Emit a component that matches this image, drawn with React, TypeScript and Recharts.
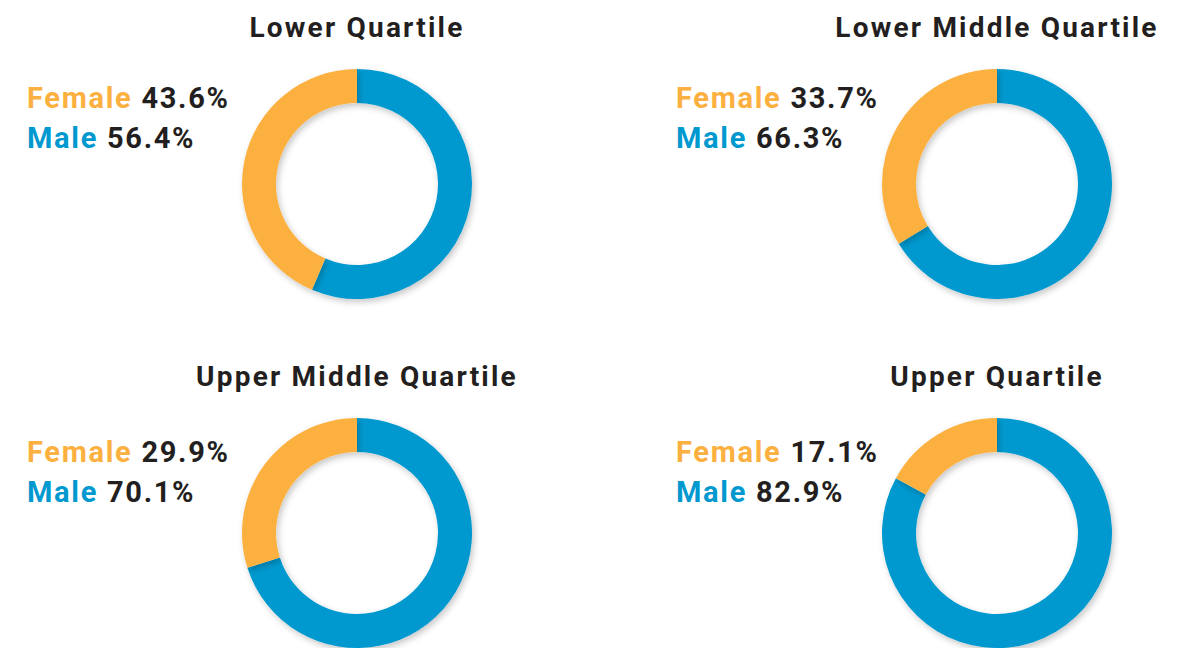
import { PieChart, Pie, Cell } from "recharts";

const quartiles = [
  "Lower Quartile",
  "Lower Middle Quartile",
  "Upper Middle Quartile",
  "Upper Quartile",
];
const femaleShare = [43.6, 33.7, 29.9, 17.1];
const maleShare = [56.4, 66.3, 70.1, 82.9];

const FEMALE = "#fbb040";
const MALE = "#0099cf";
const INK = "#231f20";
const FONT = "Roboto, 'Noto Sans', sans-serif";

// panel centres (donut centre) and legend anchor in page pixels
const centres = [
  { x: 357, y: 184, legendX: 27, legendY: 78 },
  { x: 997, y: 184, legendX: 676, legendY: 78 },
  { x: 357, y: 533, legendX: 27, legendY: 432 },
  { x: 997, y: 533, legendX: 676, legendY: 432 },
];

const SIZE = 260;

function Donut({ i }: { i: number }) {
  const c = centres[i];
  const data = [
    { name: "Male", value: maleShare[i], color: MALE },
    { name: "Female", value: femaleShare[i], color: FEMALE },
  ];
  return (
    <>
      <div
        style={{
          position: "absolute",
          left: c.x - 250,
          width: 500,
          top: c.y - 170,
          textAlign: "center",
          fontFamily: FONT,
          fontWeight: 700,
          fontSize: 28,
          letterSpacing: 2.2,
          lineHeight: "28px",
          color: INK,
        }}
      >
        {quartiles[i]}
      </div>
      <div
        style={{
          position: "absolute",
          left: c.legendX,
          top: c.legendY,
          fontFamily: FONT,
          fontWeight: 700,
          fontSize: 29,
          letterSpacing: 1.7,
          lineHeight: "40px",
          color: INK,
          whiteSpace: "nowrap",
        }}
      >
        <div>
          <span style={{ color: FEMALE }}>Female</span> {femaleShare[i].toFixed(1)}%
        </div>
        <div>
          <span style={{ color: MALE }}>Male</span> {maleShare[i].toFixed(1)}%
        </div>
      </div>
      <div
        style={{
          position: "absolute",
          left: c.x - SIZE / 2,
          top: c.y - SIZE / 2,
        }}
      >
        <PieChart width={SIZE} height={SIZE}>
          <Pie
            data={data}
            dataKey="value"
            cx="50%"
            cy="50%"
            innerRadius={81}
            outerRadius={115}
            startAngle={90}
            endAngle={-270}
            stroke="none"
            isAnimationActive={false}
          >
            {data.map((d) => (
              <Cell key={d.name} fill={d.color} style={{ filter: "url(#donutShadow)" }} />
            ))}
          </Pie>
        </PieChart>
      </div>
    </>
  );
}

export default function App() {
  return (
    <div
      style={{
        position: "absolute",
        left: 0,
        top: 0,
        width: 1186,
        height: 648,
        overflow: "hidden",
        background: "#ffffff",
      }}
    >
      <svg width={0} height={0} style={{ position: "absolute" }}>
        <defs>
          <filter id="donutShadow" x="-20%" y="-20%" width="140%" height="140%">
            <feDropShadow dx={2} dy={3} stdDeviation={3} floodColor="#000" floodOpacity={0.22} />
          </filter>
        </defs>
      </svg>
      {quartiles.map((q, i) => (
        <Donut key={q} i={i} />
      ))}
    </div>
  );
}
